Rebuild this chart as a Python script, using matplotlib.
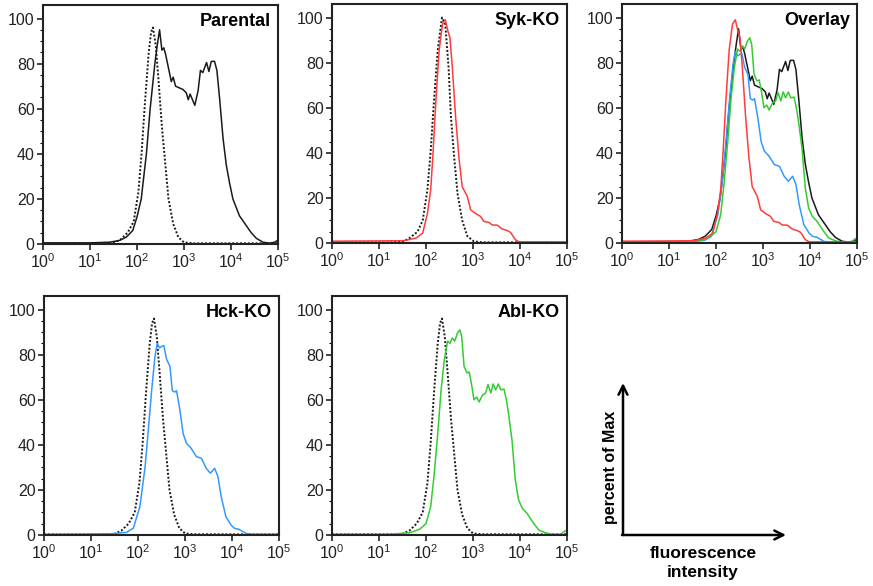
import numpy as np
import matplotlib
matplotlib.use("Agg")
import matplotlib.pyplot as plt
from matplotlib.ticker import FixedLocator, LogLocator, NullFormatter

plt.rcParams["font.family"] = ["Liberation Sans", "DejaVu Sans"]
plt.rcParams["mathtext.fontset"] = "custom"
plt.rcParams["mathtext.rm"] = "Liberation Sans"
plt.rcParams["mathtext.it"] = "Liberation Sans"

# x positions are log10(fluorescence intensity), y is percent of max
ctrl_x = [0, 1.2, 1.5, 1.65, 1.8, 1.93, 2.03, 2.1, 2.17, 2.25, 2.3, 2.34, 2.4, 2.46, 2.53, 2.6, 2.67, 2.77, 2.88, 3.0, 3.2, 5.0]
ctrl_y = [0.3, 0.3, 0.5, 2, 5, 10, 23, 41, 63, 85, 94, 96, 88, 72, 52, 36, 20, 9, 3, 0.7, 0.3, 0.3]

ctrl_syk_x = [0, 1.2, 1.5, 1.65, 1.82, 1.93, 2.03, 2.1, 2.17, 2.25, 2.34, 2.41, 2.48, 2.53, 2.6, 2.67, 2.77, 2.88, 3.02, 3.2, 5.0]
ctrl_syk_y = [0.3, 0.3, 0.5, 2.2, 5, 10, 23.6, 41, 63, 85.5, 100, 97, 78, 56, 38, 22, 10, 3, 0.7, 0.3, 0.3]

parental_x = [0, 1.0, 1.42, 1.63, 1.77, 1.91, 2.0, 2.09, 2.2, 2.28, 2.38, 2.43, 2.48, 2.53, 2.57, 2.61, 2.66,
              2.73, 2.77, 2.82, 2.98, 3.05, 3.09, 3.13, 3.19, 3.23, 3.3, 3.35, 3.4, 3.48, 3.53, 3.58, 3.65,
              3.7, 3.76, 3.83, 3.9, 3.97, 4.04, 4.18, 4.33, 4.43, 4.54, 4.68, 4.82, 4.93, 5.0]
parental_y = [0.5, 0.5, 0.8, 1.6, 3, 6, 12, 20, 40, 60, 80, 88, 95, 86, 87, 84, 79,
              72, 74, 70, 68.5, 67, 64, 66.5, 63.5, 61.5, 68, 77, 76, 80.5, 76.5, 81, 81,
              77, 64, 47, 35, 27, 20, 12.5, 8, 5, 2.5, 0.8, 0.4, 0.8, 1.8]

syk_x = [0, 1.5, 1.57, 1.79, 1.93, 2.03, 2.1, 2.15, 2.21, 2.28, 2.35, 2.41, 2.47, 2.51, 2.56, 2.63, 2.7,
         2.77, 2.88, 2.95, 3.06, 3.16, 3.23, 3.34, 3.41, 3.52, 3.62, 3.73, 3.8, 3.9, 3.98, 5.0]
syk_y = [0.8, 1.0, 1.2, 2.2, 4.4, 13, 23.6, 40, 63, 85.5, 97, 99, 93.7, 91, 78, 56, 38,
         25, 20.6, 14.7, 13, 11.8, 9.6, 9.1, 8, 7.9, 6.2, 5.5, 4.7, 1.5, 0.5, 0.5]

hck_x = [0, 1.41, 1.76, 1.9, 2.04, 2.15, 2.22, 2.29, 2.36, 2.41, 2.46, 2.51, 2.55, 2.61, 2.68, 2.73, 2.78,
         2.82, 2.89, 2.96, 3.03, 3.13, 3.24, 3.35, 3.45, 3.54, 3.63, 3.7, 3.77, 3.87, 3.98, 4.05, 4.15,
         4.3, 4.44, 5.0]
hck_y = [0.3, 0.5, 1.2, 3, 12.6, 30, 46.7, 64, 79, 85, 83, 83.7, 84, 77.8, 74.8, 64, 63.4,
         64, 55.6, 45, 40.7, 38.5, 34.8, 34, 29.6, 27.4, 29.6, 26, 17, 8.1, 4.4, 3, 2.5,
         0.7, 0.3, 0.3]

abl_x = [0, 1.22, 1.65, 1.86, 2.0, 2.1, 2.17, 2.25, 2.32, 2.39, 2.46, 2.51, 2.56, 2.61, 2.67, 2.72, 2.76,
         2.81, 2.87, 2.92, 2.97, 3.02, 3.08, 3.13, 3.2, 3.27, 3.32, 3.38, 3.43, 3.48, 3.54, 3.59, 3.66,
         3.71, 3.76, 3.83, 3.9, 3.97, 4.05, 4.15, 4.22, 4.29, 4.4, 4.54, 4.68, 4.86, 4.96, 5.0]
abl_y = [0.3, 0.3, 1, 2.5, 5, 12.6, 26, 45, 64, 77.8, 86, 85, 87.4, 86, 89.6, 91, 88,
         74.8, 71.9, 72.3, 66.7, 60, 61.2, 59, 62, 63, 66.7, 63, 67, 64.4, 67, 64.4, 64.7,
         60, 53.3, 42, 24.4, 15.5, 11.8, 9.6, 7.4, 5.2, 2.2, 1, 0.3, 0.3, 1.8, 2.2]

black = "#1a1a1a"
red = "#ff3b3b"
blue = "#3399ff"
green = "#33cc33"

fig = plt.figure(figsize=(8.73, 5.86), dpi=100)

W, H = 873.0, 586.0
panel_w = 235
panel_h = 239
# left edge and bottom edge of each panel, in pixels from the top-left corner
panels = {
    "Parental": (43, 244),
    "Syk-KO": (332, 243),
    "Overlay": (622, 243),
    "Hck-KO": (44, 535),
    "Abl-KO": (332, 535),
}


def make_ax(name):
    left, bottom = panels[name]
    ax = fig.add_axes([left / W, 1 - bottom / H, panel_w / W, panel_h / H])
    ax.set_xscale("log")
    ax.set_xlim(1, 1e5)
    ax.set_ylim(0, 106)
    ax.xaxis.set_major_locator(FixedLocator([1, 10, 100, 1e3, 1e4, 1e5]))
    ax.set_xticklabels([r"$\mathregular{10^{%d}}$" % i for i in range(6)])
    ax.xaxis.set_minor_locator(LogLocator(base=10, subs=np.arange(2, 10)))
    ax.xaxis.set_minor_formatter(NullFormatter())
    ax.set_yticks([0, 20, 40, 60, 80, 100])
    ax.set_yticks(np.arange(0, 105, 5), minor=True)
    ax.tick_params(which="major", direction="out", length=4, width=1.2, labelsize=11.5, pad=2,
                   colors="#222222")
    ax.tick_params(which="minor", direction="out", length=2, width=0.8)
    for s in ax.spines.values():
        s.set_linewidth(1.5)
        s.set_color("#222222")
    ax.text(0.97, 0.965, name, transform=ax.transAxes, ha="right", va="top",
            fontsize=13, fontweight="bold")
    return ax


def plot_series(ax, xs, ys, color):
    ax.plot(10 ** np.array(xs), ys, color=color, lw=1.1)


def plot_ctrl(ax, xs, ys):
    ax.plot(10 ** np.array(xs), ys, color=black, lw=1.4, ls=(0, (1, 1)))


ax = make_ax("Parental")
plot_ctrl(ax, ctrl_x, ctrl_y)
plot_series(ax, parental_x, parental_y, black)

ax = make_ax("Syk-KO")
plot_ctrl(ax, ctrl_syk_x, ctrl_syk_y)
plot_series(ax, syk_x, syk_y, red)

ax = make_ax("Overlay")
plot_series(ax, parental_x, parental_y, black)
plot_series(ax, hck_x, hck_y, blue)
plot_series(ax, abl_x, abl_y, green)
plot_series(ax, syk_x, syk_y, red)

ax = make_ax("Hck-KO")
plot_ctrl(ax, ctrl_x, ctrl_y)
plot_series(ax, hck_x, hck_y, blue)

ax = make_ax("Abl-KO")
plot_ctrl(ax, ctrl_x, ctrl_y)
plot_series(ax, abl_x, abl_y, green)

# axis key in the empty bottom-right slot
key = fig.add_axes([0, 0, 1, 1])
key.set_xlim(0, W)
key.set_ylim(H, 0)
key.axis("off")
arrow = dict(arrowstyle="->", lw=1.8, color="black", mutation_scale=16, shrinkA=0, shrinkB=0)
key.annotate("", xy=(623, 383), xytext=(623, 535), arrowprops=arrow)
key.annotate("", xy=(786, 535), xytext=(622, 535), arrowprops=arrow)
key.text(611, 467, "percent of Max", rotation=90, ha="center", va="center",
         fontsize=11.5, fontweight="bold")
key.text(703, 553, "fluorescence", ha="center", va="center", fontsize=12.5, fontweight="bold")
key.text(703, 573, "intensity", ha="center", va="center", fontsize=12.5, fontweight="bold")

fig.savefig("out.png", dpi=100)
